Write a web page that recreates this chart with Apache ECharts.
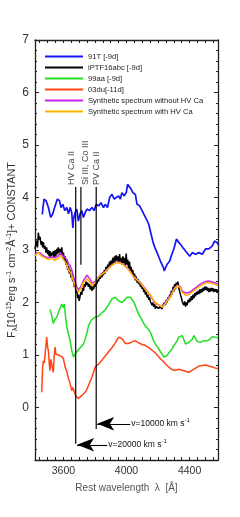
<!DOCTYPE html>
<html><head><meta charset="utf-8">
<script src="https://cdn.jsdelivr.net/npm/echarts@6/dist/echarts.min.js"></script>
<style>html,body{margin:0;padding:0;background:#fff}#c{width:240px;height:517px}</style>
</head><body><div id="c"></div>
<script>
const seriesNames = ['91T [-9d]', 'iPTF16abc [-9d]', '99aa [-9d]', '03du[-11d]', 'Synthetic spectrum without HV Ca', 'Synthetic spectrum with HV Ca'];
const xTickLabels = [3600, 4000, 4400];
const xMinorTicks = [3450,3500,3550,3600,3650,3700,3750,3800,3850,3900,3950,4000,4050,4100,4150,4200,4250,4300,4350,4400,4450,4500,4550];
const yTickLabels = [0,1,2,3,4,5,6,7];

const sn91T = [[3466,3.68],[3477,3.97],[3490,3.94],[3505,3.81],[3520,3.62],[3533,3.69],[3541,3.78],[3552,3.88],[3562,3.97],[3575,3.94],[3585,3.81],[3596,3.87],[3609,3.75],[3622,3.81],[3632,3.69],[3643,3.81],[3653,3.71],[3660,3.42],[3665,3.60],[3674,3.71],[3685,3.78],[3695,3.55],[3706,3.69],[3717,3.75],[3727,3.62],[3738,3.71],[3749,3.78],[3765,3.75],[3781,3.81],[3795,3.75],[3808,3.87],[3823,3.84],[3838,3.90],[3854,3.81],[3865,3.87],[3880,3.81],[3893,4.00],[3908,4.06],[3922,3.97],[3935,4.00],[3950,4.03],[3961,3.97],[3971,4.09],[3986,4.03],[3999,4.10],[4007,4.25],[4013,4.24],[4029,4.16],[4041,4.09],[4056,4.06],[4067,3.87],[4083,3.84],[4099,3.75],[4109,3.69],[4126,3.59],[4141,3.49],[4156,3.30],[4169,3.14],[4183,3.02],[4198,2.92],[4215,2.79],[4232,2.68],[4240,2.60],[4247,2.66],[4258,2.73],[4274,2.79],[4283,2.88],[4300,3.02],[4317,3.21],[4325,3.17],[4342,3.11],[4359,3.04],[4374,2.98],[4385,2.95],[4401,2.88],[4417,2.95],[4438,2.92],[4459,2.95],[4480,2.92],[4501,3.02],[4522,3.02],[4544,3.08],[4558,3.17],[4576,3.14],[4580,3.10]];

const iPTF16abc = [[3420,3.02],[3425,3.10],[3431,3.18],[3436,3.05],[3441,3.33],[3447,3.20],[3452,3.25],[3458,3.10],[3463,3.17],[3468,3.05],[3473,3.15],[3479,3.02],[3484,3.08],[3490,2.95],[3494,3.05],[3500,2.92],[3505,3.00],[3510,2.88],[3515,2.98],[3520,2.86],[3526,2.95],[3531,2.90],[3536,2.98],[3541,2.85],[3547,3.00],[3552,2.88],[3558,3.02],[3563,2.92],[3568,3.05],[3574,2.95],[3579,3.02],[3585,2.90],[3590,3.05],[3595,2.88],[3600,2.95],[3606,2.80],[3611,2.88],[3616,2.72],[3622,2.80],[3627,2.62],[3632,2.70],[3638,2.55],[3643,2.62],[3648,2.48],[3653,2.55],[3659,2.40],[3664,2.45],[3669,2.30],[3674,2.35],[3680,2.18],[3685,2.25],[3690,2.08],[3695,2.15],[3700,2.03],[3706,2.12],[3711,2.20],[3717,2.15],[3722,2.28],[3727,2.22],[3733,2.35],[3738,2.30],[3743,2.40],[3749,2.33],[3754,2.38],[3759,2.30],[3765,2.35],[3770,2.25],[3775,2.32],[3781,2.22],[3786,2.30],[3791,2.25],[3797,2.35],[3802,2.30],[3807,2.40],[3812,2.35],[3818,2.45],[3823,2.40],[3828,2.50],[3833,2.45],[3839,2.55],[3844,2.48],[3849,2.58],[3854,2.52],[3860,2.62],[3865,2.55],[3870,2.68],[3876,2.60],[3881,2.72],[3886,2.65],[3892,2.78],[3897,2.70],[3902,2.80],[3908,2.72],[3913,2.85],[3918,2.75],[3924,2.88],[3929,2.78],[3934,2.90],[3940,2.80],[3945,2.88],[3950,2.75],[3956,2.92],[3961,2.78],[3966,2.85],[3971,2.72],[3977,2.88],[3982,2.75],[3987,2.85],[3992,2.70],[3998,2.93],[4003,2.72],[4008,2.82],[4013,2.65],[4019,2.78],[4024,2.60],[4029,2.68],[4035,2.55],[4040,2.62],[4045,2.48],[4051,2.55],[4056,2.42],[4061,2.50],[4067,2.38],[4072,2.45],[4077,2.35],[4083,2.40],[4088,2.30],[4093,2.36],[4099,2.26],[4104,2.30],[4109,2.20],[4115,2.25],[4120,2.15],[4125,2.20],[4130,2.10],[4136,2.15],[4141,2.05],[4146,2.10],[4151,2.02],[4157,2.05],[4162,1.95],[4167,2.00],[4172,1.92],[4178,1.97],[4183,1.88],[4188,1.93],[4194,1.90],[4199,1.95],[4204,1.88],[4210,1.92],[4215,1.90],[4220,1.95],[4226,1.88],[4231,1.95],[4236,1.92],[4242,2.00],[4247,1.95],[4252,2.05],[4258,2.00],[4263,2.10],[4268,2.05],[4274,2.15],[4279,2.10],[4284,2.22],[4289,2.15],[4295,2.30],[4300,2.20],[4305,2.35],[4310,2.25],[4316,2.38],[4321,2.30],[4326,2.40],[4331,2.28],[4337,2.25],[4342,2.15],[4347,2.10],[4353,2.02],[4358,2.05],[4363,1.95],[4369,2.02],[4374,1.92],[4379,2.00],[4385,1.95],[4390,2.05],[4395,2.00],[4401,2.08],[4406,2.02],[4411,2.12],[4417,2.05],[4422,2.15],[4427,2.08],[4433,2.18],[4438,2.12],[4443,2.20],[4448,2.15],[4454,2.22],[4459,2.16],[4464,2.25],[4469,2.18],[4475,2.26],[4480,2.20],[4485,2.28],[4490,2.22],[4496,2.30],[4501,2.24],[4506,2.30],[4512,2.22],[4517,2.28],[4522,2.20],[4528,2.27],[4533,2.21],[4538,2.28],[4544,2.22],[4549,2.27],[4554,2.20],[4560,2.26],[4565,2.21],[4570,2.25],[4576,2.20],[4580,2.24]];

const sn99aa = [[3515,1.87],[3526,1.75],[3536,1.60],[3547,1.68],[3558,1.72],[3568,1.81],[3579,1.84],[3590,1.97],[3600,1.90],[3606,1.97],[3611,1.80],[3622,1.53],[3632,1.40],[3643,1.27],[3653,1.08],[3664,0.96],[3674,1.02],[3685,1.06],[3695,1.10],[3706,1.12],[3717,1.17],[3727,1.21],[3738,1.30],[3749,1.42],[3759,1.55],[3770,1.63],[3781,1.68],[3791,1.70],[3802,1.72],[3812,1.72],[3823,1.74],[3833,1.76],[3844,1.80],[3854,1.82],[3865,1.86],[3876,1.91],[3886,1.95],[3897,1.97],[3908,2.07],[3918,2.05],[3929,2.10],[3940,2.07],[3950,2.03],[3961,2.02],[3971,2.00],[3982,2.02],[3992,2.06],[4003,2.10],[4013,2.12],[4024,2.10],[4035,2.10],[4045,2.02],[4056,1.94],[4067,1.85],[4077,1.78],[4088,1.72],[4099,1.66],[4109,1.60],[4120,1.55],[4130,1.53],[4141,1.48],[4151,1.44],[4162,1.35],[4172,1.27],[4183,1.21],[4194,1.16],[4204,1.12],[4215,1.06],[4226,1.02],[4236,0.96],[4247,0.97],[4258,0.99],[4268,1.04],[4279,1.08],[4289,1.12],[4300,1.18],[4310,1.22],[4321,1.27],[4331,1.34],[4342,1.35],[4353,1.37],[4363,1.30],[4374,1.21],[4385,1.22],[4395,1.24],[4406,1.23],[4417,1.30],[4427,1.37],[4438,1.34],[4448,1.26],[4459,1.24],[4469,1.24],[4480,1.27],[4490,1.27],[4501,1.29],[4512,1.27],[4522,1.30],[4533,1.31],[4544,1.35],[4554,1.37],[4565,1.34],[4576,1.34],[4580,1.33]];

const sn03du = [[3463,0.29],[3468,0.75],[3473,0.89],[3479,0.85],[3484,0.88],[3490,1.20],[3494,1.34],[3500,1.15],[3505,1.08],[3510,0.85],[3515,0.70],[3520,0.92],[3526,0.89],[3531,0.75],[3536,0.67],[3541,0.95],[3547,1.15],[3552,1.02],[3558,0.99],[3568,1.00],[3579,0.99],[3590,0.97],[3600,0.93],[3611,0.77],[3622,0.68],[3632,0.55],[3643,0.45],[3653,0.32],[3659,0.38],[3664,0.35],[3669,0.30],[3674,0.26],[3680,0.22],[3685,0.19],[3695,0.17],[3706,0.20],[3717,0.23],[3727,0.26],[3738,0.29],[3749,0.35],[3759,0.42],[3770,0.50],[3781,0.58],[3791,0.67],[3802,0.77],[3812,0.80],[3823,0.83],[3833,0.86],[3844,0.90],[3854,0.94],[3865,0.98],[3876,1.02],[3886,1.06],[3897,1.10],[3908,1.14],[3918,1.18],[3929,1.23],[3940,1.29],[3950,1.34],[3961,1.35],[3971,1.31],[3982,1.27],[3992,1.22],[4003,1.21],[4013,1.22],[4024,1.24],[4035,1.25],[4045,1.27],[4056,1.27],[4067,1.25],[4077,1.23],[4088,1.21],[4099,1.20],[4109,1.19],[4120,1.18],[4130,1.16],[4141,1.14],[4151,1.12],[4162,1.09],[4172,1.06],[4183,1.04],[4194,1.00],[4204,0.97],[4215,0.93],[4226,0.90],[4236,0.87],[4247,0.83],[4258,0.80],[4268,0.77],[4279,0.74],[4289,0.72],[4300,0.70],[4310,0.71],[4321,0.72],[4331,0.73],[4342,0.72],[4353,0.71],[4363,0.70],[4374,0.69],[4385,0.68],[4395,0.67],[4406,0.69],[4417,0.71],[4427,0.73],[4438,0.75],[4448,0.77],[4459,0.79],[4469,0.80],[4480,0.80],[4490,0.80],[4501,0.81],[4512,0.80],[4522,0.79],[4533,0.78],[4544,0.77],[4554,0.77],[4565,0.75],[4576,0.73],[4580,0.74]];

const synthNoHV = [[3420,2.91],[3431,2.95],[3441,2.97],[3452,2.95],[3463,2.91],[3473,2.88],[3484,2.87],[3494,2.86],[3505,2.85],[3515,2.85],[3526,2.87],[3536,2.89],[3547,2.85],[3558,2.85],[3568,2.89],[3579,2.95],[3590,2.93],[3600,2.88],[3611,2.87],[3622,2.82],[3632,2.74],[3643,2.70],[3653,2.62],[3664,2.50],[3674,2.40],[3685,2.30],[3695,2.24],[3706,2.28],[3717,2.34],[3727,2.42],[3738,2.47],[3749,2.52],[3759,2.50],[3770,2.44],[3781,2.37],[3791,2.36],[3802,2.40],[3812,2.45],[3823,2.49],[3833,2.52],[3844,2.55],[3854,2.57],[3865,2.59],[3876,2.63],[3886,2.66],[3897,2.69],[3908,2.72],[3918,2.74],[3929,2.76],[3940,2.77],[3950,2.77],[3961,2.76],[3971,2.74],[3982,2.72],[3992,2.70],[4003,2.67],[4013,2.64],[4024,2.59],[4035,2.54],[4045,2.50],[4056,2.47],[4067,2.44],[4077,2.41],[4088,2.38],[4099,2.34],[4109,2.30],[4120,2.26],[4130,2.22],[4141,2.18],[4151,2.14],[4162,2.08],[4172,2.03],[4183,1.99],[4194,1.96],[4204,1.95],[4215,1.94],[4226,1.92],[4236,1.96],[4247,2.00],[4258,2.05],[4268,2.09],[4279,2.13],[4289,2.19],[4300,2.25],[4310,2.29],[4321,2.33],[4331,2.36],[4342,2.30],[4353,2.22],[4363,2.20],[4374,2.18],[4385,2.17],[4395,2.19],[4406,2.21],[4417,2.23],[4427,2.25],[4438,2.28],[4448,2.31],[4459,2.33],[4469,2.35],[4480,2.37],[4490,2.39],[4501,2.40],[4512,2.41],[4522,2.41],[4533,2.40],[4544,2.39],[4554,2.38],[4565,2.37],[4576,2.36],[4580,2.35]];

const synthHV = [[3420,2.89],[3431,2.92],[3441,2.95],[3452,2.93],[3463,2.88],[3473,2.86],[3484,2.85],[3494,2.83],[3505,2.82],[3515,2.82],[3526,2.84],[3536,2.85],[3547,2.80],[3558,2.80],[3568,2.84],[3579,2.90],[3590,2.88],[3600,2.82],[3611,2.80],[3622,2.72],[3632,2.62],[3643,2.58],[3653,2.51],[3664,2.40],[3674,2.32],[3685,2.25],[3695,2.19],[3706,2.25],[3717,2.30],[3727,2.38],[3738,2.41],[3749,2.45],[3759,2.43],[3770,2.38],[3781,2.32],[3791,2.33],[3802,2.38],[3812,2.44],[3823,2.48],[3833,2.51],[3844,2.54],[3854,2.56],[3865,2.58],[3876,2.62],[3886,2.65],[3897,2.68],[3908,2.71],[3918,2.73],[3929,2.75],[3940,2.76],[3950,2.76],[3961,2.75],[3971,2.73],[3982,2.71],[3992,2.69],[4003,2.66],[4013,2.63],[4024,2.58],[4035,2.53],[4045,2.49],[4056,2.46],[4067,2.43],[4077,2.40],[4088,2.37],[4099,2.33],[4109,2.29],[4120,2.25],[4130,2.21],[4141,2.18],[4151,2.15],[4162,2.09],[4172,2.04],[4183,2.00],[4194,1.97],[4204,1.96],[4215,1.95],[4226,1.91],[4236,1.94],[4247,1.98],[4258,2.03],[4268,2.07],[4279,2.11],[4289,2.17],[4300,2.24],[4310,2.28],[4321,2.32],[4331,2.35],[4342,2.28],[4353,2.19],[4363,2.16],[4374,2.14],[4385,2.13],[4395,2.15],[4406,2.18],[4417,2.20],[4427,2.22],[4438,2.25],[4448,2.28],[4459,2.30],[4469,2.32],[4480,2.34],[4490,2.36],[4501,2.37],[4512,2.38],[4522,2.38],[4533,2.37],[4544,2.36],[4554,2.35],[4565,2.34],[4576,2.33],[4580,2.32]];

// annotation lines: [wavelength, top, bottom, label]
const lineMarks = [[3678, 4.2, -0.69, 'HV Ca II'], [3711, 4.2, 2.72, 'Si III, Co III'], [3808, 4.2, -0.41, 'PV Ca II']];
// arrows: [tail wavelength, head wavelength, flux, text]
const arrowMarks = [[4024, 3814, -0.31, 'v=10000 km s'], [3878, 3687, -0.71, 'v=20000 km s']];

const colors = ['#1515f5', '#000000', '#22dd22', '#ff4416', '#cc22ee', '#ffb300'];
const spectra = [sn91T, iPTF16abc, sn99aa, sn03du, synthNoHV, synthHV];

const chart = echarts.init(document.getElementById('c'), null, {renderer: 'canvas'});
const FONT = 'Liberation Sans, Arial, Helvetica, sans-serif';

const series = spectra.map((d, i) => ({
  name: seriesNames[i], type: 'line', data: d, showSymbol: false, symbol: 'none',
  lineStyle: {color: colors[i], width: i === 0 ? 1.7 : 1.5}, itemStyle: {color: colors[i]},
  z: 2 + i, silent: true, animation: false
}));

lineMarks.forEach((m) => {
  series.push({name: 'ann-' + m[3], type: 'line', data: [[m[0], m[2]], [m[0], m[1]]], symbol: 'none', showSymbol: false,
    lineStyle: {color: '#000', width: 1.2}, z: 10, silent: true, animation: false});
});

const labelAlign = ['bottom', 'top', 'middle'];
series.push({
  name: 'ann-labels', type: 'scatter', symbolSize: 0, z: 11, silent: true, animation: false,
  data: lineMarks.map((m, i) => ({
    value: [m[0], m[1]],
    label: {show: true, formatter: m[3], rotate: 90, position: [0, -2], align: 'left', verticalAlign: labelAlign[i],
      fontSize: 9, color: '#111', fontFamily: FONT}
  })),
  markLine: {
    silent: true, animation: false, symbol: ['none', 'arrow'], symbolSize: [10, 17],
    lineStyle: {color: '#000', width: 1.1, type: 'solid'},
    label: {show: true, position: 'start', distance: 1, fontFamily: FONT, fontSize: 8.5, color: '#111'},
    data: arrowMarks.map((a) => [
      {coord: [a[0], a[2]], label: {formatter: a[3] + '{sup|-1}', rich: {sup: {fontSize: 6, verticalAlign: 'top', padding: [0,0,6,0], color: '#111'}}}},
      {coord: [a[1], a[2]]}
    ])
  }
});

chart.setOption({
  animation: false,
  grid: {left: 35, right: 22, top: 40, bottom: 57, containLabel: false, outerBoundsMode: 'none'},
  legend: {
    data: seriesNames, orient: 'vertical', left: 40, top: 46, padding: 5, itemGap: 0,
    icon: 'rect', itemWidth: 38, itemHeight: 2,
    textStyle: {fontSize: 7.6, lineHeight: 11, color: '#222', fontFamily: FONT}, selectedMode: false
  },
  xAxis: [{
    type: 'value', min: 3420, max: 4580, position: 'bottom',
    axisLine: {show: true, onZero: false, lineStyle: {color: '#222', width: 1.3}},
    axisTick: {show: true, inside: true, length: 3, customValues: xMinorTicks, lineStyle: {color: '#222', width: 1}},
    axisLabel: {show: true, customValues: xTickLabels, fontSize: 10.5, color: '#333', margin: 6, fontFamily: FONT,
      formatter: (v) => String(v)},
    splitLine: {show: false},
    name: 'Rest wavelength  \u03bb  [\u00c5]', nameLocation: 'middle', nameGap: 23, nameMoveOverlap: false,
    nameTextStyle: {fontSize: 10, color: '#555', fontFamily: FONT}
  }, {
    type: 'value', min: 3420, max: 4580, position: 'top',
    axisLine: {show: true, onZero: false, lineStyle: {color: '#222', width: 1.3}},
    axisTick: {show: true, inside: true, length: 3, customValues: xMinorTicks, lineStyle: {color: '#222', width: 1}},
    axisLabel: {show: false}, splitLine: {show: false}
  }],
  yAxis: [{
    type: 'value', min: -1, max: 7, interval: 1, position: 'left',
    axisLine: {show: true, onZero: false, lineStyle: {color: '#222', width: 1.3}},
    axisTick: {show: true, inside: true, length: 4, lineStyle: {color: '#222', width: 1}},
    minorTick: {show: true, splitNumber: 5, length: 2, lineStyle: {color: '#222', width: 1}},
    axisLabel: {fontSize: 12, color: '#333', margin: 6, fontFamily: FONT,
      formatter: (v) => yTickLabels.indexOf(v) >= 0 ? String(v) : ''},
    splitLine: {show: false},
    name: '{a|F}{sub|\u03bb}{a|[10}{sup|-15}{a|erg s}{sup|-1}{a| cm}{sup|-2}{a|\u00c5}{sup|-1}{a|]+ CONSTANT}',
    nameLocation: 'middle', nameGap: 16, nameMoveOverlap: false,
    nameTextStyle: {fontFamily: FONT, color: '#333', rich: {
      a: {fontSize: 10.8, color: '#333', fontFamily: FONT, lineHeight: 14},
      sup: {fontSize: 7.5, color: '#333', fontFamily: FONT, verticalAlign: 'top', lineHeight: 14},
      sub: {fontSize: 8, color: '#333', fontFamily: FONT, verticalAlign: 'bottom', lineHeight: 14}
    }}
  }, {
    type: 'value', min: -1, max: 7, interval: 1, position: 'right',
    axisLine: {show: true, onZero: false, lineStyle: {color: '#222', width: 1.3}},
    axisTick: {show: true, inside: true, length: 4, lineStyle: {color: '#222', width: 1}},
    minorTick: {show: true, splitNumber: 5, length: 2, lineStyle: {color: '#222', width: 1}},
    axisLabel: {show: false}, splitLine: {show: false}
  }],
  series: series
});
</script></body></html>
